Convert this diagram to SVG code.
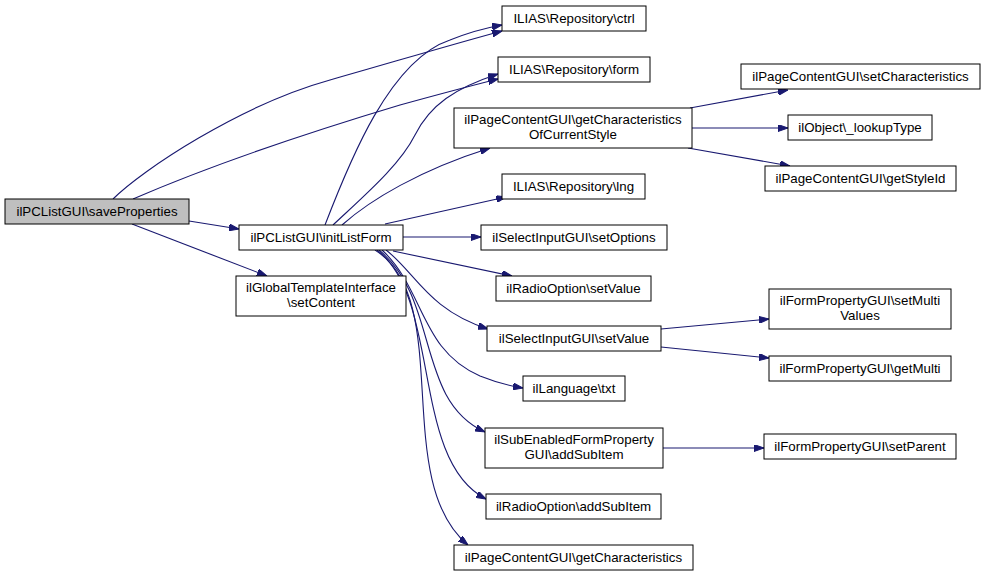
<svg xmlns="http://www.w3.org/2000/svg" width="985" height="576" viewBox="0 0 985 576">
<style>
.n rect{fill:#fff;stroke:#000;stroke-width:1}
.n text{font-family:"Liberation Sans",Arial,sans-serif;font-size:13.3px;text-anchor:middle;fill:#000}
#edges path{fill:none;stroke:#191970;stroke-width:1.1;marker-end:url(#ah)}
</style>
<defs>
<marker id="ah" viewBox="0 0 10 7" refX="10" refY="3.5" markerWidth="10" markerHeight="7" markerUnits="userSpaceOnUse" orient="auto">
<path d="M0,0 L10,3.5 L0,7 z" fill="#191970" stroke="#191970"/>
</marker>
</defs>
<rect width="985" height="576" fill="#fff"/>
<g id="edges">
<path d="M113,199 C142,170 240,105 330,80 C390,63 450,45 502,31"/>
<path d="M133,199 C200,170 300,135 400,105 C440,94 470,86 498,79"/>
<path d="M189,221 L239,229"/>
<path d="M132,224 L267,276"/>
<path d="M325,225 C350,160 390,60 450,40 C470,32 485,28 502,25"/>
<path d="M333,225 C365,195 400,165 415,135 C430,105 455,88 498,74"/>
<path d="M342,225 C370,200 420,170 490,148"/>
<path d="M385,224 L506,197"/>
<path d="M403,237 L481,237"/>
<path d="M393,251 L512,276"/>
<path d="M386,250 C415,272 428,310 488,329"/>
<path d="M382,250 C425,290 420,350 480,376 C495,382 510,386 523,388"/>
<path d="M379,250 C440,300 415,400 485,432"/>
<path d="M377,250 C442,300 410,460 486,499"/>
<path d="M375,250 C455,300 390,480 468,545"/>
<path d="M690,108 L788,90"/>
<path d="M692,128 L788,128"/>
<path d="M688,148 L790,166"/>
<path d="M661,329 L769,319"/>
<path d="M661,347 L769,358"/>
<path d="M663,448 L764,448"/>
</g>
<g id="n1" class="n"><rect x="5" y="199" width="184" height="25" style="fill:#bfbfbf"/><text x="97" y="216">ilPCListGUI\saveProperties</text></g>
<g id="n2" class="n"><rect x="239" y="225" width="164" height="25"/><text x="321" y="242">ilPCListGUI\initListForm</text></g>
<g id="n3" class="n"><rect x="236" y="276" width="170" height="40"/><text x="321" y="292">ilGlobalTemplateInterface</text><text x="321" y="307">\setContent</text></g>
<g id="n4" class="n"><rect x="502" y="6" width="144" height="25"/><text x="574" y="23">ILIAS\Repository\ctrl</text></g>
<g id="n5" class="n"><rect x="498" y="57" width="152" height="25"/><text x="574" y="74">ILIAS\Repository\form</text></g>
<g id="n6" class="n"><rect x="454" y="108" width="238" height="40"/><text x="573" y="124">ilPageContentGUI\getCharacteristics</text><text x="573" y="139">OfCurrentStyle</text></g>
<g id="n7" class="n"><rect x="502" y="174" width="143" height="25"/><text x="573.5" y="191">ILIAS\Repository\lng</text></g>
<g id="n8" class="n"><rect x="481" y="225" width="186" height="25"/><text x="574" y="242">ilSelectInputGUI\setOptions</text></g>
<g id="n9" class="n"><rect x="496" y="276" width="155" height="25"/><text x="573.5" y="293">ilRadioOption\setValue</text></g>
<g id="n10" class="n"><rect x="487" y="326" width="174" height="25"/><text x="574" y="343">ilSelectInputGUI\setValue</text></g>
<g id="n11" class="n"><rect x="523" y="376" width="102" height="25"/><text x="574" y="393">ilLanguage\txt</text></g>
<g id="n12" class="n"><rect x="485" y="428" width="178" height="40"/><text x="574" y="444">ilSubEnabledFormProperty</text><text x="574" y="459">GUI\addSubItem</text></g>
<g id="n13" class="n"><rect x="486" y="494" width="175" height="25"/><text x="573.5" y="511">ilRadioOption\addSubItem</text></g>
<g id="n14" class="n"><rect x="454" y="545" width="239" height="25"/><text x="573.5" y="562">ilPageContentGUI\getCharacteristics</text></g>
<g id="n15" class="n"><rect x="741" y="64" width="239" height="25"/><text x="860.5" y="81">ilPageContentGUI\setCharacteristics</text></g>
<g id="n16" class="n"><rect x="788" y="115" width="144" height="25"/><text x="860" y="132">ilObject\_lookupType</text></g>
<g id="n17" class="n"><rect x="765" y="166" width="191" height="25"/><text x="860.5" y="183">ilPageContentGUI\getStyleId</text></g>
<g id="n18" class="n"><rect x="769" y="289" width="182" height="40"/><text x="860" y="305">ilFormPropertyGUI\setMulti</text><text x="860" y="320">Values</text></g>
<g id="n19" class="n"><rect x="769" y="356" width="182" height="25"/><text x="860" y="373">ilFormPropertyGUI\getMulti</text></g>
<g id="n20" class="n"><rect x="764" y="434" width="192" height="25"/><text x="860" y="451">ilFormPropertyGUI\setParent</text></g>
</svg>
